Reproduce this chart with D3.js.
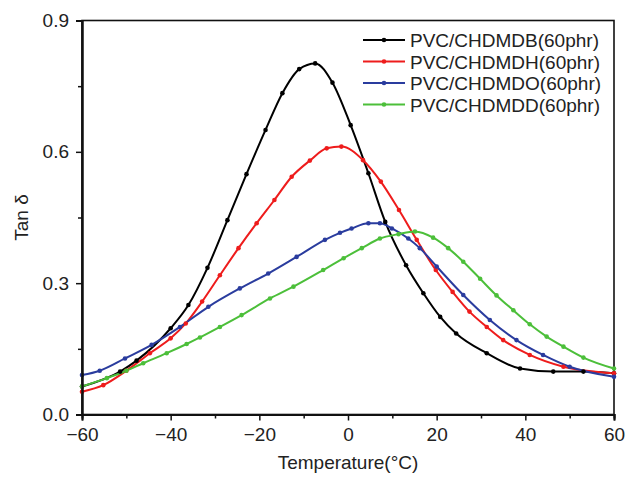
<!DOCTYPE html>
<html>
<head>
<meta charset="utf-8">
<script src="https://cdn.jsdelivr.net/npm/d3@7"></script>
<style>
  body { margin: 0; background: #fff; }
  svg { display: block; }
</style>
</head>
<body>
<div id="chart"></div>
<script>
// Tan delta vs temperature
const seriesNames = ["PVC/CHDMDB(60phr)", "PVC/CHDMDH(60phr)", "PVC/CHDMDO(60phr)", "PVC/CHDMDD(60phr)"];
const seriesColors = ["#000000", "#ee1c1c", "#2a3c9e", "#4cbf3a"];

const tempDB = [-60, -51.4, -47.7, -40, -36, -31.7, -27.2, -22.9, -18.6, -14.8, -11, -7.4, -3.5, 0.6, 4.6, 8.4, 13.1, 17, 20.8, 24.4, 31.3, 38.8, 46.3, 53.1, 60];
const tanDB = [0.064, 0.098, 0.123, 0.197, 0.25, 0.335, 0.444, 0.549, 0.65, 0.734, 0.789, 0.802, 0.758, 0.661, 0.551, 0.44, 0.341, 0.277, 0.223, 0.185, 0.14, 0.105, 0.098, 0.098, 0.094];

const tempDH = [-60, -55.2, -50, -44.7, -40, -36.6, -32.9, -28.9, -24.7, -20.6, -16.6, -12.7, -8.6, -4.8, -1.5, 3.4, 7.4, 11.5, 15.5, 19.8, 23.6, 27.4, 31.3, 35, 41, 48.6, 60];
const tanDH = [0.052, 0.067, 0.1, 0.14, 0.174, 0.208, 0.258, 0.318, 0.38, 0.437, 0.49, 0.543, 0.58, 0.608, 0.612, 0.581, 0.532, 0.467, 0.399, 0.33, 0.28, 0.235, 0.2, 0.17, 0.136, 0.109, 0.094];

const tempDO = [-60, -56, -50.3, -44.3, -37.9, -31.5, -24.4, -18, -11.6, -5.2, -1.8, 0.8, 4.6, 7.2, 9.9, 13.6, 16.2, 20, 26, 32, 38, 44, 50, 60];
const tanDO = [0.09, 0.1, 0.128, 0.159, 0.2, 0.246, 0.288, 0.322, 0.36, 0.399, 0.415, 0.425, 0.437, 0.437, 0.425, 0.402, 0.38, 0.338, 0.273, 0.216, 0.17, 0.136, 0.109, 0.086];

const tempDD = [-60, -54.4, -50, -46.2, -40.9, -36.4, -33.4, -28.9, -24, -17.6, -12.3, -5.6, -1, 3.1, 7.2, 11.4, 15.1, 19.2, 22.6, 26, 29.8, 33.5, 37.3, 41, 44.8, 48.6, 53.1, 60];
const tanDD = [0.064, 0.083, 0.1, 0.117, 0.14, 0.161, 0.176, 0.2, 0.227, 0.265, 0.292, 0.33, 0.357, 0.38, 0.402, 0.412, 0.418, 0.404, 0.38, 0.349, 0.31, 0.272, 0.238, 0.206, 0.178, 0.155, 0.13, 0.105];

const xTicks = [-60, -40, -20, 0, 20, 40, 60];
const yTicks = [0.0, 0.3, 0.6, 0.9];

const allSeries = [
  { name: seriesNames[0], color: seriesColors[0], temps: tempDB, vals: tanDB },
  { name: seriesNames[1], color: seriesColors[1], temps: tempDH, vals: tanDH },
  { name: seriesNames[2], color: seriesColors[2], temps: tempDO, vals: tanDO },
  { name: seriesNames[3], color: seriesColors[3], temps: tempDD, vals: tanDD }
].map(s => ({ ...s, values: s.temps.map((t, i) => ({ t, v: s.vals[i] })) }));

const width = 627;
const height = 477;
const margin = { top: 20.5, right: 13, bottom: 62.5, left: 82 };
const innerWidth = width - margin.left - margin.right;
const innerHeight = height - margin.top - margin.bottom;
const fontFamily = "Liberation Sans, Arial, sans-serif";

const svg = d3.select("#chart")
  .append("svg")
  .attr("width", width)
  .attr("height", height)
  .attr("viewBox", `0 0 ${width} ${height}`);

const innerChart = svg.append("g")
  .attr("transform", `translate(${margin.left}, ${margin.top})`);

const xScale = d3.scaleLinear().domain([-60, 60]).range([0, innerWidth]);
const yScale = d3.scaleLinear().domain([0, 0.9]).range([innerHeight, 0]);

// Frame
innerChart.append("rect")
  .attr("width", innerWidth)
  .attr("height", innerHeight)
  .attr("fill", "none")
  .attr("stroke", "#111")
  .attr("stroke-width", 1.6);

// Lines
const line = d3.line()
  .x(d => xScale(d.t))
  .y(d => yScale(d.v))
  .curve(d3.curveMonotoneX);

innerChart.selectAll(".series")
  .data(allSeries)
  .join("path")
  .attr("class", "series")
  .attr("fill", "none")
  .attr("stroke", d => d.color)
  .attr("stroke-width", 2)
  .attr("d", d => line(d.values));

allSeries.forEach((s, k) => {
  innerChart.selectAll(`.dot-${k}`)
    .data(s.values)
    .join("circle")
    .attr("class", `dot-${k}`)
    .attr("cx", d => xScale(d.t))
    .attr("cy", d => yScale(d.v))
    .attr("r", 2.3)
    .attr("fill", s.color);
});

// X axis
const bottomAxis = d3.axisBottom(xScale)
  .tickValues(xTicks)
  .tickSize(6)
  .tickFormat(d3.format("d"));
innerChart.append("g")
  .attr("transform", `translate(0, ${innerHeight})`)
  .attr("font-size", 19)
  .attr("font-family", fontFamily)
  .call(bottomAxis)
  .attr("font-size", 19)
  .attr("font-family", fontFamily)
  .selectAll("text")
  .attr("fill", "#222")
  .attr("y", 8)
  .attr("dy", "0.95em");

const xMinor = d3.axisBottom(xScale)
  .tickValues([-50, -30, -10, 10, 30, 50])
  .tickSize(4)
  .tickFormat("");
innerChart.append("g")
  .attr("transform", `translate(0, ${innerHeight})`)
  .call(xMinor);

// Y axis
const leftAxis = d3.axisLeft(yScale)
  .tickValues(yTicks)
  .tickSize(6)
  .tickFormat(d3.format(".1f"));
innerChart.append("g")
  .call(leftAxis)
  .attr("font-size", 19)
  .attr("font-family", fontFamily)
  .selectAll("text")
  .attr("fill", "#222")
  .attr("x", -13);

const yMinor = d3.axisLeft(yScale)
  .tickValues([0.15, 0.45, 0.75])
  .tickSize(4)
  .tickFormat("");
innerChart.append("g").call(yMinor);

innerChart.selectAll(".domain").attr("stroke", "#111").attr("stroke-width", 2);
innerChart.selectAll(".tick line").attr("stroke", "#111").attr("stroke-width", 1.5);

// Axis labels
svg.append("text")
  .text("Temperature(°C)")
  .attr("x", margin.left + innerWidth / 2)
  .attr("y", 469)
  .attr("text-anchor", "middle")
  .attr("font-family", fontFamily)
  .attr("font-size", 19)
  .attr("fill", "#222");

svg.append("text")
  .text("Tan δ")
  .attr("transform", `translate(28, ${margin.top + innerHeight / 2}) rotate(-90)`)
  .attr("text-anchor", "middle")
  .attr("font-family", fontFamily)
  .attr("font-size", 19)
  .attr("fill", "#222");

// Legend
const legend = svg.append("g")
  .attr("transform", "translate(363, 40)");

allSeries.forEach((s, i) => {
  const row = legend.append("g")
    .attr("transform", `translate(0, ${i * 21.5})`);
  row.append("line")
    .attr("x1", 0).attr("y1", 0)
    .attr("x2", 42).attr("y2", 0)
    .attr("stroke", s.color)
    .attr("stroke-width", 2);
  row.append("circle")
    .attr("cx", 21).attr("cy", 0).attr("r", 2.3)
    .attr("fill", s.color);
  row.append("text")
    .attr("x", 47)
    .attr("y", 7)
    .text(s.name)
    .attr("font-family", fontFamily)
    .attr("font-size", 19)
    .attr("fill", "#222");
});
</script>
</body>
</html>
